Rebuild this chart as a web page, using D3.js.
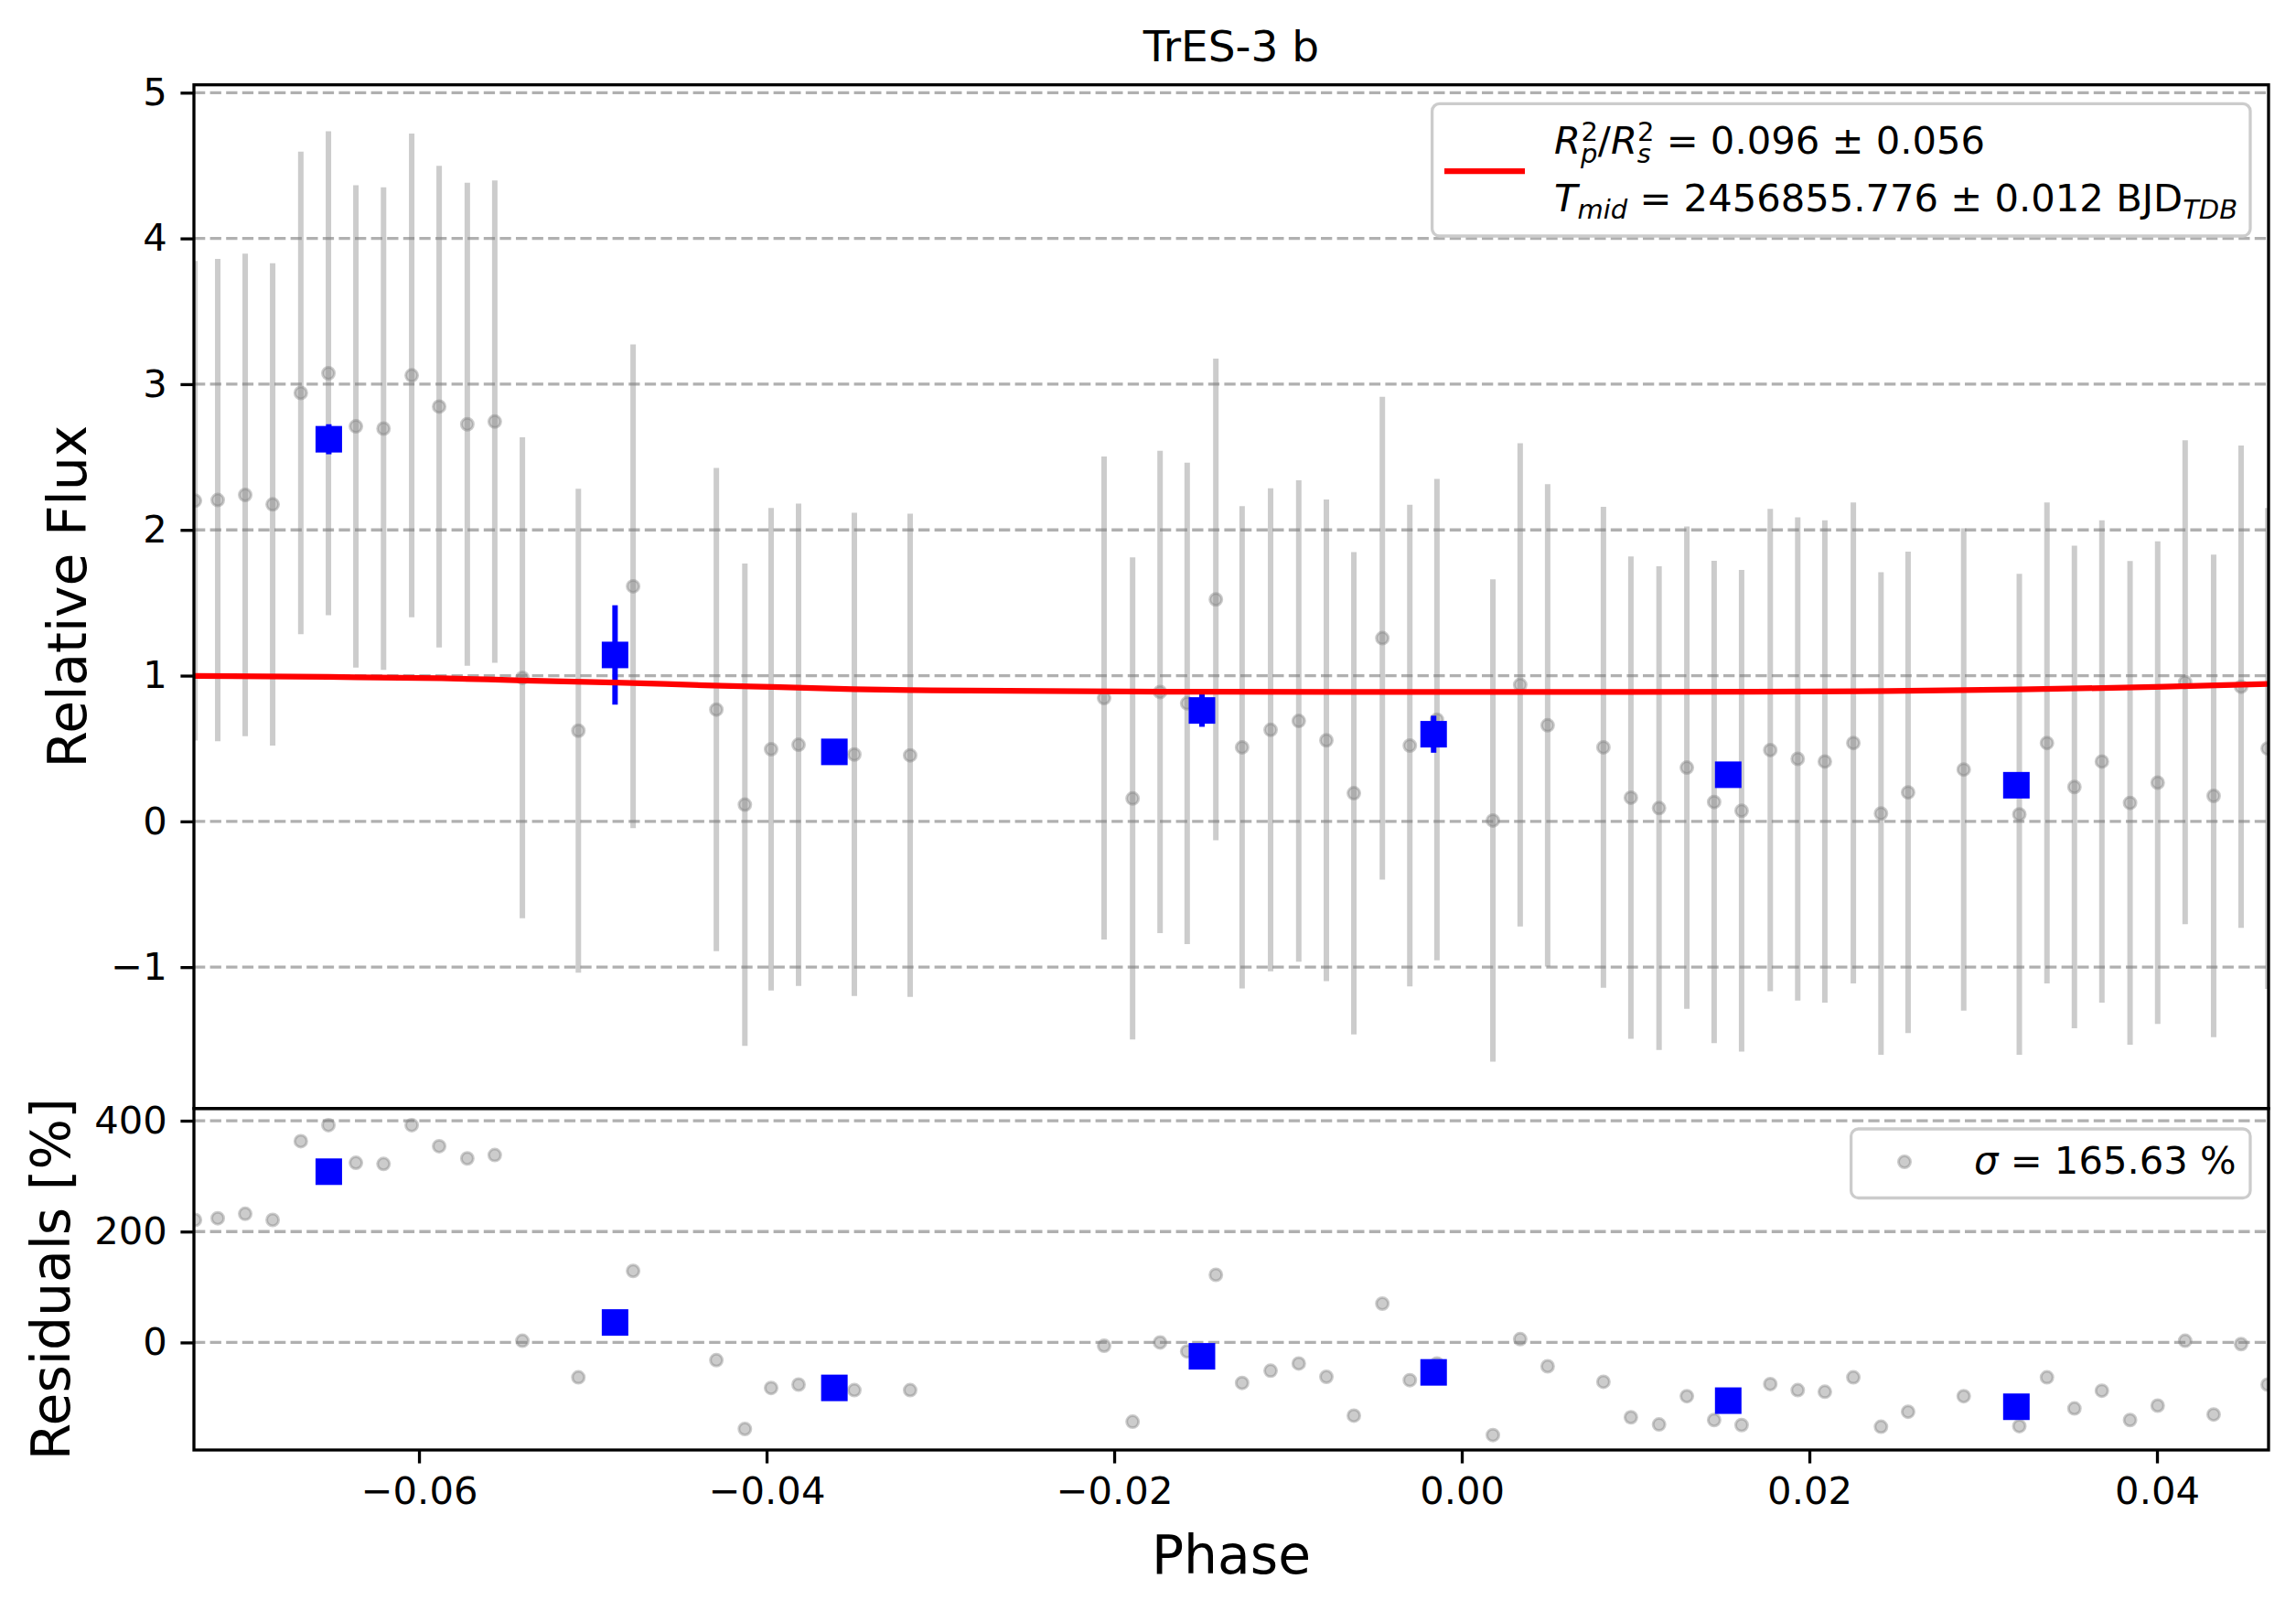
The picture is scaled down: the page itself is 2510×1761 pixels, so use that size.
<!DOCTYPE html>
<html>
<head>
<meta charset="utf-8">
<script src="https://cdn.jsdelivr.net/npm/d3@7"></script>
<style>
    body { margin: 0; background: #fff; }
    text { font-family: "DejaVu Sans", sans-serif; }
</style>
</head>
<body>
<div id="chart"></div>
<script>
// unbinned photometry (grey points)
const phase = [-0.07289, -0.07158, -0.07000, -0.06842, -0.06680, -0.06521, -0.06363, -0.06204, -0.06042, -0.05884,
    -0.05722, -0.05564, -0.05405, -0.05083, -0.04768, -0.04289, -0.04125, -0.03974, -0.03816, -0.03495,
    -0.03174, -0.02058, -0.01894, -0.01736, -0.01580, -0.01415, -0.01264, -0.01100, -0.00938, -0.00779,
    -0.00621, -0.00457, -0.00299, -0.00143, 0.00179, 0.00336, 0.00494, 0.00815, 0.00973, 0.01135,
    0.01295, 0.01452, 0.01610, 0.01775, 0.01933, 0.02089, 0.02253, 0.02412, 0.02568, 0.02888,
    0.03208, 0.03367, 0.03525, 0.03683, 0.03845, 0.04004, 0.04162, 0.04326, 0.04484, 0.04637];
const flux = [2.200, 2.205, 2.240, 2.175, 2.940, 3.075, 2.710, 2.695, 3.060, 2.846,
    2.725, 2.743, 0.985, 0.622, 1.613, 0.767, 0.115, 0.495, 0.526, 0.459,
    0.453, 0.846, 0.157, 0.888, 0.810, 1.523, 0.508, 0.628, 0.689, 0.556,
    0.193, 1.257, 0.520, 0.698, 0.006, 0.937, 0.659, 0.508, 0.163, 0.091,
    0.369, 0.133, 0.073, 0.489, 0.429, 0.411, 0.538, 0.054, 0.199, 0.356,
    0.048, 0.538, 0.236, 0.411, 0.127, 0.266, 0.955, 0.175, 0.924, 0.500];
const fluxErr = [1.645, 1.655, 1.655, 1.655, 1.655, 1.660, 1.655, 1.655, 1.660, 1.652,
    1.657, 1.655, 1.650, 1.660, 1.660, 1.658, 1.655, 1.655, 1.655, 1.658,
    1.658, 1.657, 1.654, 1.655, 1.652, 1.652, 1.655, 1.657, 1.652, 1.652,
    1.655, 1.656, 1.652, 1.652, 1.655, 1.658, 1.655, 1.650, 1.655, 1.660,
    1.655, 1.655, 1.652, 1.655, 1.658, 1.655, 1.650, 1.655, 1.652, 1.655,
    1.650, 1.650, 1.655, 1.655, 1.660, 1.655, 1.660, 1.656, 1.655, 1.650];
const residuals = [221, 224, 232, 221, 363, 392, 324, 322, 392, 354,
    332, 338, 3, -63, 129, -32, -156, -82, -76, -86,
    -86, -6, -143, 0, -16, 122, -73, -51, -38, -62,
    -132, 70, -68, -38, -167, 6, -43, -71, -135, -148,
    -97, -140, -149, -75, -86, -89, -63, -152, -125, -97,
    -151, -63, -119, -87, -140, -114, 3, -130, -3, -76];

// binned points (blue squares)
const binPhase = [-0.06519, -0.04872, -0.03610, -0.01495, -0.00162, 0.01533, 0.03191];
const binFlux = [2.622, 1.142, 0.477, 0.761, 0.598, 0.320, 0.248];
const binErr = [0.103, 0.341, 0.07, 0.112, 0.127, 0.06, 0.06];
const binResid = [308, 36, -82, -25, -54, -105, -116];

// transit model (red line)
const modelPhase = [-0.0730, -0.0652, -0.0587, -0.0540, -0.0487, -0.0431, -0.0397, -0.0350, -0.0317, -0.0240,
    -0.0145, 0.0000, 0.0168, 0.0245, 0.0321, 0.0399, 0.0464];
const modelFlux = [0.998, 0.991, 0.982, 0.967, 0.953, 0.932, 0.922, 0.907, 0.900, 0.894,
    0.889, 0.888, 0.889, 0.894, 0.905, 0.922, 0.943];

const fluxTicks = [-1, 0, 1, 2, 3, 4, 5];
const residTicks = [0, 200, 400];
const phaseTicks = [-0.06, -0.04, -0.02, 0.00, 0.02, 0.04];

class TransitPlot {

    constructor(parentElement) {
        this.parentElement = parentElement;
        this.initVis();
    }

    initVis() {
        let vis = this;

        vis.width = 2510;
        vis.height = 1761;
        // panel edges in pixels
        vis.left = 212;
        vis.right = 2480;
        vis.top = 92.7;
        vis.split = 1211.7;
        vis.bottom = 1585;

        vis.svg = d3.select(vis.parentElement)
            .append("svg")
            .attr("width", vis.width)
            .attr("height", vis.height);

        vis.x = d3.scaleLinear().domain([-0.07295, 0.04642]).range([vis.left, vis.right]);
        vis.y = d3.scaleLinear().domain([-1.97, 5.054]).range([vis.split, vis.top]);
        vis.yRes = d3.scaleLinear().domain([-194, 422]).range([vis.bottom, vis.split]);

        let defs = vis.svg.append("defs");
        defs.append("clipPath").attr("id", "clipMain").append("rect")
            .attr("x", vis.left).attr("y", vis.top)
            .attr("width", vis.right - vis.left).attr("height", vis.split - vis.top);
        defs.append("clipPath").attr("id", "clipRes").append("rect")
            .attr("x", vis.left).attr("y", vis.split)
            .attr("width", vis.right - vis.left).attr("height", vis.bottom - vis.split);

        vis.main = vis.svg.append("g").attr("clip-path", "url(#clipMain)");
        vis.res = vis.svg.append("g").attr("clip-path", "url(#clipRes)");

        vis.updateVis();
    }

    drawGrid(g, scale, ticks) {
        let vis = this;
        g.selectAll(".grid")
            .data(ticks)
            .enter().append("line")
            .attr("x1", vis.left).attr("x2", vis.right)
            .attr("y1", d => scale(d)).attr("y2", d => scale(d))
            .attr("stroke", "#b0b0b0")
            .attr("stroke-width", 3.3)
            .attr("stroke-dasharray", "12.3,5.3");
    }

    updateVis() {
        let vis = this;
        let pts = phase.map((p, i) => ({ p: p, f: flux[i], e: fluxErr[i], r: residuals[i] }));
        let bins = binPhase.map((p, i) => ({ p: p, f: binFlux[i], e: binErr[i], r: binResid[i] }));

        // ---- top panel
        vis.drawGrid(vis.main, vis.y, fluxTicks);

        vis.main.selectAll(".err")
            .data(pts)
            .enter().append("line")
            .attr("x1", d => vis.x(d.p)).attr("x2", d => vis.x(d.p))
            .attr("y1", d => vis.y(d.f - d.e)).attr("y2", d => vis.y(d.f + d.e))
            .attr("stroke", "gray").attr("stroke-opacity", 0.4)
            .attr("stroke-width", 6);

        vis.main.selectAll(".pt")
            .data(pts)
            .enter().append("circle")
            .attr("cx", d => vis.x(d.p)).attr("cy", d => vis.y(d.f))
            .attr("r", 6.5)
            .attr("fill", "gray").attr("fill-opacity", 0.4)
            .attr("stroke", "gray").attr("stroke-opacity", 0.4).attr("stroke-width", 3);

        vis.main.selectAll(".binerr")
            .data(bins)
            .enter().append("line")
            .attr("x1", d => vis.x(d.p)).attr("x2", d => vis.x(d.p))
            .attr("y1", d => vis.y(d.f - d.e)).attr("y2", d => vis.y(d.f + d.e))
            .attr("stroke", "blue").attr("stroke-width", 6);

        vis.main.selectAll(".bin")
            .data(bins)
            .enter().append("rect")
            .attr("x", d => vis.x(d.p) - 14.5).attr("y", d => vis.y(d.f) - 14.5)
            .attr("width", 29).attr("height", 29)
            .attr("fill", "blue");

        let line = d3.line()
            .x((d, i) => vis.x(modelPhase[i]))
            .y(d => vis.y(d))
            .curve(d3.curveMonotoneX);

        vis.main.append("path")
            .attr("d", line(modelFlux))
            .attr("fill", "none")
            .attr("stroke", "red")
            .attr("stroke-width", 6.25);

        // ---- residual panel
        vis.drawGrid(vis.res, vis.yRes, residTicks);

        vis.res.selectAll(".rpt")
            .data(pts)
            .enter().append("circle")
            .attr("cx", d => vis.x(d.p)).attr("cy", d => vis.yRes(d.r))
            .attr("r", 6.5)
            .attr("fill", "gray").attr("fill-opacity", 0.4)
            .attr("stroke", "gray").attr("stroke-opacity", 0.4).attr("stroke-width", 3);

        vis.res.selectAll(".rbin")
            .data(bins)
            .enter().append("rect")
            .attr("x", d => vis.x(d.p) - 14.5).attr("y", d => vis.yRes(d.r) - 14.5)
            .attr("width", 29).attr("height", 29)
            .attr("fill", "blue");

        // ---- axes
        let styleAxis = function(g) {
            g.select(".domain").remove();
            g.selectAll(".tick line").attr("stroke", "black").attr("stroke-width", 3.3);
            g.selectAll(".tick text").attr("font-size", 41.7).attr("fill", "black")
                .style("font-family", "'DejaVu Sans'");
        };

        vis.svg.append("g")
            .attr("transform", "translate(" + vis.left + ",0)")
            .call(d3.axisLeft(vis.y).tickValues(fluxTicks).tickFormat(d3.format("d"))
                .tickSize(14.6).tickPadding(14.6))
            .call(styleAxis);

        vis.svg.append("g")
            .attr("transform", "translate(" + vis.left + ",0)")
            .call(d3.axisLeft(vis.yRes).tickValues(residTicks).tickFormat(d3.format("d"))
                .tickSize(14.6).tickPadding(14.6))
            .call(styleAxis);

        vis.svg.append("g")
            .attr("transform", "translate(0," + vis.bottom + ")")
            .call(d3.axisBottom(vis.x).tickValues(phaseTicks).tickFormat(d3.format(".2f"))
                .tickSize(14.6).tickPadding(14.6))
            .call(styleAxis);

        // spines
        [[vis.top, vis.split], [vis.split, vis.bottom]].forEach(function(b) {
            vis.svg.append("rect")
                .attr("x", vis.left).attr("y", b[0])
                .attr("width", vis.right - vis.left).attr("height", b[1] - b[0])
                .attr("fill", "none").attr("stroke", "black").attr("stroke-width", 3.3);
        });

        // titles and labels
        vis.svg.append("text")
            .attr("x", (vis.left + vis.right) / 2).attr("y", 67)
            .attr("text-anchor", "middle").attr("font-size", 47)
            .text("TrES-3 b");

        vis.svg.append("text")
            .attr("x", (vis.left + vis.right) / 2).attr("y", 1720)
            .attr("text-anchor", "middle").attr("font-size", 58.3)
            .text("Phase");

        vis.svg.append("text")
            .attr("transform", "translate(93.7," + (vis.top + vis.split) / 2 + ") rotate(-90)")
            .attr("text-anchor", "middle").attr("font-size", 58.3)
            .text("Relative Flux");

        vis.svg.append("text")
            .attr("transform", "translate(76," + (vis.split + vis.bottom) / 2 + ") rotate(-90)")
            .attr("text-anchor", "middle").attr("font-size", 58.3)
            .text("Residuals [%]");

        // legend, top panel
        let leg = vis.svg.append("g");
        leg.append("rect")
            .attr("x", 1565.6).attr("y", 113.4).attr("width", 2460 - 1565.6).attr("height", 258 - 113.4)
            .attr("rx", 8).attr("fill", "white").attr("fill-opacity", 0.8)
            .attr("stroke", "#cccccc").attr("stroke-width", 3.3);
        leg.append("line")
            .attr("x1", 1579).attr("x2", 1667).attr("y1", 187).attr("y2", 187)
            .attr("stroke", "red").attr("stroke-width", 6.25);

        let t1 = leg.append("text").attr("x", 1699).attr("y", 168).attr("font-size", 41.7);
        t1.append("tspan").attr("font-style", "italic").text("R");
        t1.append("tspan").attr("font-style", "italic").attr("font-size", 29).attr("dy", 10).text("p");
        t1.append("tspan").attr("font-size", 29).attr("dx", -18).attr("dy", -24).text("2");
        t1.append("tspan").attr("dy", 14).text("/");
        t1.append("tspan").attr("font-style", "italic").text("R");
        t1.append("tspan").attr("font-style", "italic").attr("font-size", 29).attr("dy", 10).text("s");
        t1.append("tspan").attr("font-size", 29).attr("dx", -15).attr("dy", -24).text("2");
        t1.append("tspan").attr("dy", 14).text(" = 0.096 \u00b1 0.056");

        let t2 = leg.append("text").attr("x", 1699).attr("y", 231).attr("font-size", 41.7);
        t2.append("tspan").attr("font-style", "italic").text("T");
        t2.append("tspan").attr("font-style", "italic").attr("font-size", 29).attr("dy", 7.5).text("mid");
        t2.append("tspan").attr("dy", -7.5).text(" = 2456855.776 \u00b1 0.012 BJD");
        t2.append("tspan").attr("font-style", "italic").attr("font-size", 29).attr("dy", 7.5).text("TDB");

        // legend, residual panel
        let leg2 = vis.svg.append("g");
        leg2.append("rect")
            .attr("x", 2023.6).attr("y", 1234).attr("width", 2460 - 2023.6).attr("height", 1309.5 - 1234)
            .attr("rx", 8).attr("fill", "white").attr("fill-opacity", 0.8)
            .attr("stroke", "#cccccc").attr("stroke-width", 3.3);
        leg2.append("circle")
            .attr("cx", 2082).attr("cy", 1270).attr("r", 6.5)
            .attr("fill", "gray").attr("fill-opacity", 0.4)
            .attr("stroke", "gray").attr("stroke-opacity", 0.4).attr("stroke-width", 3);
        let t3 = leg2.append("text").attr("x", 2158).attr("y", 1283).attr("font-size", 41.7);
        t3.append("tspan").attr("font-style", "italic").text("\u03c3");
        t3.append("tspan").text(" = 165.63 %");
    }
}

new TransitPlot("#chart");
</script>
</body>
</html>
